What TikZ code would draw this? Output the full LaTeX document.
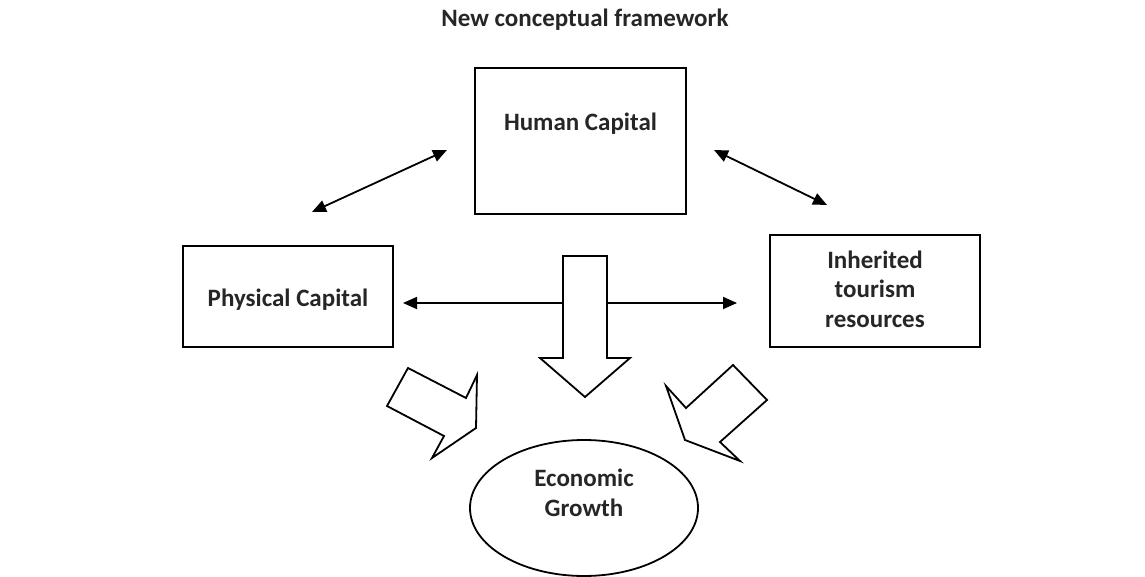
\documentclass[tikz,border=0pt]{standalone}
\usepackage{fontspec}
\setmainfont{Carlito}
\usetikzlibrary{arrows.meta,shapes.geometric}

\begin{document}
\begin{tikzpicture}[x=1pt, y=-1pt, auto]
    \tikzstyle{cap box} = [rectangle,draw=black,fill=white,line width=1.8pt,inner sep=0pt]
    \tikzstyle{cap text} = [font=\fontsize{25}{29.5}\selectfont\bfseries,text=black!85,align=center]
    \tikzstyle{link} = [draw=black,line width=1.8pt,{Triangle[length=14pt,width=12pt]}-{Triangle[length=14pt,width=12pt]}]
    \tikzstyle{block arrow} = [draw=black,fill=white,line width=1.8pt,line join=miter]
\useasboundingbox (0,0) rectangle (1145,577);
\node[cap text] (title) at (585,20) {New conceptual framework};
% boxes
\node[cap box, minimum width=211, minimum height=146] (hc) at (580.5,141) {};
\node[cap text] (hclabel) at (580.5,124) {Human Capital};
\node[cap box, minimum width=210, minimum height=101] (pc) at (288,296.5) {};
\node[cap text] (pclabel) at (288,300) {Physical Capital};
\node[cap box, minimum width=210, minimum height=112] (itr) at (875,291) {};
\node[cap text] (itrlabel) at (875,289) {Inherited\\tourism\\resources};
\node[ellipse, draw=black, line width=1.8pt, minimum width=228, minimum height=136] (eg) at (584,508) {};
\node[cap text] (eglabel) at (584,493) {Economic\\Growth};
% connector ends
\coordinate (hcw) at (447,150);
\coordinate (pcn) at (312,212);
\coordinate (hce) at (714,150);
\coordinate (itrn) at (827,205);
\coordinate (pce) at (403,303);
\coordinate (itrw) at (737,303);
\draw[link] (pcn) to (hcw);
\draw[link] (hce) to (itrn);
\draw[link] (pce) to (itrw);
% block arrows
\draw[block arrow] (563,256) -- (607,256) -- (607,358) -- (630,358) -- (585,397) -- (540,358) -- (563,358) -- cycle;
\draw[block arrow] (408,368) -- (466,398) -- (477,375) -- (476,428) -- (432,458) -- (444,436) -- (387,406) -- cycle;
\draw[block arrow] (733,365) -- (767,400) -- (720,442) -- (740,461) -- (685,440) -- (666,386) -- (686,408) -- cycle;
\end{tikzpicture}
\end{document}
